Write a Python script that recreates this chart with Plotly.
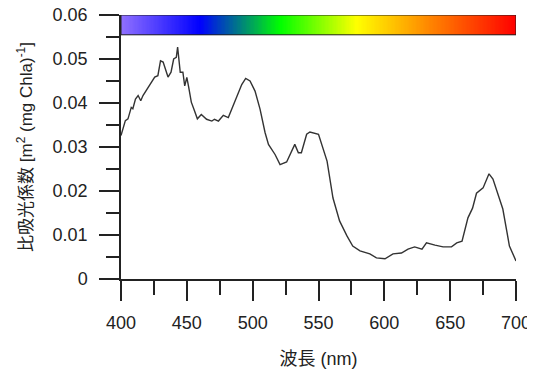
import numpy as np
import plotly.graph_objects as go

wavelength_nm = [400, 403.3, 405.3, 407.8, 409, 411, 413, 415, 416.7, 419, 421.8, 423, 425.6, 428,
                 430, 432, 435.7, 438, 440, 442, 443, 445, 447, 448.4, 450, 451.4, 453.4, 455.4,
                 458, 461, 465, 469, 471, 474, 477.7, 481.5, 484, 488, 491.7, 494.7, 498, 501.8,
                 505.6, 509.4, 512, 517, 520.8, 525.8, 528.4, 532, 534.7, 537, 541, 543.5, 550,
                 553.6, 556.5, 561, 566, 571.6, 576, 581.5, 589, 594, 600.5, 606.6, 613, 618, 623,
                 628.6, 632, 638.5, 644.6, 651, 655, 659, 661, 663.5, 667, 670, 675, 678, 679.5,
                 682.5, 686, 690, 693, 695, 700]
absorption = [0.0326, 0.036, 0.0364, 0.039, 0.0387, 0.0409, 0.0417, 0.0405, 0.0417, 0.0428, 0.0443,
              0.0448, 0.0459, 0.0462, 0.0496, 0.0493, 0.0459, 0.047, 0.050, 0.0504, 0.0527, 0.047,
              0.047, 0.0439, 0.0458, 0.0436, 0.0402, 0.0386, 0.0364, 0.0374, 0.0363, 0.0359, 0.0363,
              0.0359, 0.0372, 0.0367, 0.0386, 0.0416, 0.0442, 0.0456, 0.045, 0.0427, 0.0386, 0.0333,
              0.0306, 0.0283, 0.026, 0.0266, 0.0283, 0.0306, 0.0287, 0.0287, 0.0329, 0.0334, 0.0329,
              0.0298, 0.0268, 0.0184, 0.0132, 0.0098, 0.0075, 0.0064, 0.0057, 0.0048, 0.0046, 0.0057,
              0.0059, 0.0068, 0.0073, 0.0068, 0.0082, 0.0077, 0.0073, 0.0073, 0.0082, 0.0086, 0.0109,
              0.0139, 0.0161, 0.0195, 0.0207, 0.023, 0.0239, 0.0227, 0.0195, 0.0159, 0.0109, 0.0075,
              0.0041]

# spectrum colour bar stops
spectrum_nm = [400, 460, 521, 579, 637, 700]
spectrum_colors = ["#9070ff", "#0000ff", "#00ff00", "#ffff00", "#ff8000", "#ff0000"]
band_y = [0.0555, 0.06]

x_ticks = [400, 450, 500, 550, 600, 650, 700]
y_ticks = [0, 0.01, 0.02, 0.03, 0.04, 0.05, 0.06]
y_tick_labels = ["0", "0.01", "0.02", "0.03", "0.04", "0.05", "0.06"]

FONT = "Liberation Sans, Arial, Noto Sans CJK JP, sans-serif"

edges = np.arange(spectrum_nm[0], spectrum_nm[-1] + 1, 1.0)
centers = (edges[:-1] + edges[1:]) / 2
lo, hi = spectrum_nm[0], spectrum_nm[-1]
colorscale = [[(v - lo) / (hi - lo), c] for v, c in zip(spectrum_nm, spectrum_colors)]

fig = go.Figure()
fig.add_trace(go.Heatmap(x=edges, y=band_y, z=[centers], zmin=lo, zmax=hi,
                         colorscale=colorscale, showscale=False, hoverinfo="skip"))
fig.add_trace(go.Scatter(x=wavelength_nm, y=absorption, mode="lines",
                         line=dict(color="#333333", width=1.4), showlegend=False))
fig.add_shape(type="rect", xref="x", yref="y", x0=lo, x1=hi, y0=band_y[0], y1=band_y[1],
              line=dict(color="#222222", width=1))

axis_common = dict(showline=True, linecolor="#222222", linewidth=1.5, ticks="outside",
                   tickcolor="#222222", tickwidth=1.5, ticklen=20, showgrid=False,
                   zeroline=False, automargin=False, ticklabeloverflow="allow",
                   tickfont=dict(family=FONT, size=18, color="#222222"))
fig.update_xaxes(range=[400, 700], tickvals=x_ticks, ticklabelstandoff=7,
                 minor=dict(dtick=25, ticks="outside", ticklen=14, tickcolor="#222222", tickwidth=1.5),
                 title=dict(text="波長 (nm)", font=dict(family=FONT, size=18, color="#222222"), standoff=20),
                 **axis_common)
fig.update_yaxes(range=[0, 0.06], tickvals=y_ticks, ticktext=y_tick_labels, ticklabelstandoff=8,
                 minor=dict(dtick=0.005, ticks="outside", ticklen=13, tickcolor="#222222", tickwidth=1.5),
                 title=dict(text="比吸光係数 [m<sup>2</sup> (mg Chla)<sup>-1</sup>]",
                            font=dict(family=FONT, size=17, color="#222222"), standoff=16),
                 **axis_common)
# page body has an 8px margin, so the figure origin sits at (8, 8) in the window
fig.update_layout(width=527, height=361, margin=dict(l=113, r=19, t=7, b=90),
                  plot_bgcolor="white", paper_bgcolor="white", font=dict(family=FONT))
fig.write_html("out.html")
